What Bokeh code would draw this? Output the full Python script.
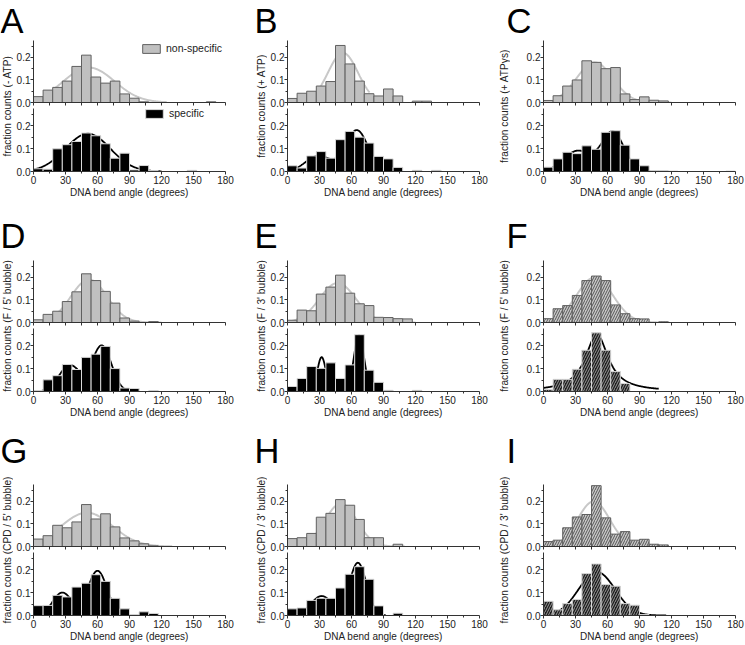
import numpy as np
from bokeh.plotting import figure
from bokeh.layouts import row, column
from bokeh.models import (Range1d, ColumnDataSource, Legend, LegendItem,
                          FixedTicker, NumeralTickFormatter)
from bokeh.core.properties import value
from bokeh.embed import file_html
from bokeh.resources import INLINE

# ------------------------------------------------------------------ data
BIN_EDGES = list(range(0, 181, 9))            # 9-degree histogram bins
X_TICKS = [0, 30, 60, 90, 120, 150, 180]
X_MINOR = [15, 45, 75, 105, 135, 165]
Y_TICKS = [0.0, 0.1, 0.2]
Y_MINOR = [0.05, 0.15, 0.25]
X_TITLE = "DNA bend angle (degrees)"
LEGEND_LABELS = ["non-specific", "specific"]
PANEL_LETTERS = ["A", "B", "C", "D", "E", "F", "G", "H", "I"]
Y_TITLES = ["fraction counts (- ATP)", "fraction counts (+ ATP)",
            "fraction counts (+ ATPγs)", "fraction counts (F / 5' bubble)",
            "fraction counts (F / 3' bubble)", "fraction counts (F / 5' bubble)",
            "fraction counts (CPD / 5' bubble)", "fraction counts (CPD / 3' bubble)",
            "fraction counts (CPD / 3' bubble)"]
HATCHED = ["F", "I"]

A_nonspecific = [0.026, 0.055, 0.067, 0.095, 0.160, 0.210, 0.113, 0.086, 0.095, 0.038,
                 0.019, 0.003, 0, 0, 0, 0, 0, 0, 0.003, 0]
A_specific = [0.012, 0.010, 0.099, 0.117, 0.131, 0.168, 0.156, 0.121, 0.058, 0.080,
              0.007, 0.026, 0.004, 0, 0, 0, 0.005, 0, 0, 0]
B_nonspecific = [0.018, 0.041, 0.050, 0.073, 0.093, 0.253, 0.171, 0.095, 0.039, 0.029,
                 0.060, 0.029, 0, 0.006, 0.006, 0, 0, 0, 0, 0]
B_specific = [0.025, 0.015, 0.068, 0.087, 0.058, 0.139, 0.175, 0.150, 0.124, 0.066,
              0.055, 0.018, 0, 0.005, 0, 0.005, 0, 0, 0, 0]
C_nonspecific = [0.009, 0.030, 0.073, 0.100, 0.185, 0.178, 0.150, 0.155, 0.038, 0.013,
                 0.025, 0.010, 0.007, 0, 0, 0, 0, 0, 0, 0]
C_specific = [0.019, 0.055, 0.084, 0.078, 0.112, 0.097, 0.171, 0.178, 0.115, 0.055,
              0.025, 0.003, 0.003, 0.002, 0, 0, 0, 0, 0, 0.002]
D_nonspecific = [0.012, 0.036, 0.050, 0.093, 0.136, 0.216, 0.186, 0.138, 0.086, 0.020,
                 0.006, 0, 0.004, 0, 0, 0, 0, 0, 0, 0]
D_specific = [0.003, 0.051, 0.069, 0.118, 0.096, 0.149, 0.163, 0.197, 0.100, 0.015,
              0.013, 0, 0.003, 0, 0, 0, 0, 0, 0, 0]
E_nonspecific = [0.010, 0.055, 0.052, 0.126, 0.157, 0.210, 0.130, 0.083, 0.075, 0.023,
                 0.022, 0.017, 0.016, 0, 0, 0, 0, 0, 0, 0]
E_specific = [0.022, 0.057, 0.109, 0.101, 0.125, 0.057, 0.116, 0.248, 0.093, 0.040,
              0.005, 0, 0, 0.005, 0, 0, 0, 0, 0, 0]
F_nonspecific = [0.017, 0.061, 0.075, 0.120, 0.186, 0.206, 0.186, 0.078, 0.039, 0.017,
                 0.016, 0, 0.003, 0, 0, 0, 0, 0, 0, 0]
F_specific = [0.009, 0.053, 0.053, 0.097, 0.180, 0.256, 0.180, 0.087, 0.035, 0,
              0, 0, 0, 0, 0, 0, 0, 0, 0, 0]
G_nonspecific = [0.033, 0.048, 0.094, 0.083, 0.109, 0.186, 0.122, 0.145, 0.087, 0.038,
                 0.025, 0.012, 0.003, 0, 0, 0, 0, 0, 0, 0]
G_specific = [0.043, 0.044, 0.088, 0.081, 0.124, 0.141, 0.178, 0.149, 0.075, 0.029,
              0.004, 0.016, 0.009, 0, 0, 0, 0, 0, 0, 0]
H_nonspecific = [0.035, 0.039, 0.058, 0.130, 0.147, 0.208, 0.183, 0.120, 0.039, 0.039,
                 0, 0.010, 0, 0, 0, 0, 0, 0, 0, 0]
H_specific = [0.029, 0.033, 0.066, 0.075, 0.075, 0.120, 0.180, 0.213, 0.158, 0.042,
              0, 0.010, 0, 0, 0, 0, 0, 0, 0, 0]
I_nonspecific = [0.022, 0.028, 0.083, 0.131, 0.142, 0.270, 0.127, 0.055, 0.066, 0.028,
                 0.032, 0.010, 0.007, 0, 0, 0, 0, 0, 0, 0]
I_specific = [0.062, 0.025, 0.052, 0.070, 0.183, 0.225, 0.135, 0.128, 0.052, 0.045,
              0.004, 0, 0, 0, 0, 0, 0, 0, 0, 0]

# fitted components: (shape, centre [deg], amplitude, width [deg]) and plotted span
A_nonspecific_fit = [("gauss", 52, 0.155, 24)]
A_nonspecific_span = [18, 125]
A_specific_fit = [("gauss", 51, 0.165, 21)]
A_specific_span = [0, 120]
B_nonspecific_fit = [("gauss", 52, 0.22, 14)]
B_nonspecific_span = [30, 77]
B_specific_fit = [("gauss", 29, 0.068, 12), ("gauss", 65, 0.18, 10.5)]
B_specific_span = [5, 100]
C_nonspecific_fit = [("gauss", 48, 0.178, 17)]
C_nonspecific_span = [10, 120]
C_specific_fit = [("gauss", 32, 0.09, 13), ("gauss", 65, 0.172, 10.5)]
C_specific_span = [3, 100]
D_nonspecific_fit = [("gauss", 52, 0.19, 17)]
D_nonspecific_span = [18, 120]
D_specific_fit = [("gauss", 34, 0.115, 10), ("gauss", 64, 0.2, 9)]
D_specific_span = [8, 92]
E_nonspecific_fit = [("gauss", 47, 0.175, 17)]
E_nonspecific_span = [0, 120]
E_specific_fit = [("gauss", 32, 0.15, 4), ("gauss", 67, 0.245, 4.8)]
E_specific_span = [20, 85]
F_nonspecific_fit = [("gauss", 48, 0.2, 17)]
F_nonspecific_span = [12, 118]
F_specific_fit = [("lorentz", 50, 0.25, 13)]
F_specific_span = [0, 108]
G_nonspecific_fit = [("gauss", 50, 0.15, 24)]
G_nonspecific_span = [18, 130]
G_specific_fit = [("gauss", 27, 0.1, 9), ("gauss", 60, 0.195, 9)]
G_specific_span = [8, 88]
H_nonspecific_fit = [("gauss", 50, 0.19, 15)]
H_nonspecific_span = [15, 110]
H_specific_fit = [("gauss", 32, 0.085, 10), ("gauss", 66, 0.23, 8)]
H_specific_span = [8, 92]
I_nonspecific_fit = [("gauss", 47, 0.2, 15)]
I_nonspecific_span = [15, 110]
I_specific_fit = [("gauss", 50, 0.19, 17)]
I_specific_span = [15, 115]

G_ = globals()

# ------------------------------------------------------------------ layout constants
FONT = "Liberation Sans"
FRAME_W = 192
YLAB_W = 13
COL_L = [20, 20, 33]
COL_R = [29, 18, 10]
LETTER_X = [0, 0, 9]
LETTER_H = 40
LETTER_MID = 20
ROW_TT = [0, 5, 14]
ROW_BB = [44, 39, 30]
TOP_FH, TOP_B = 62, 6
BOT_T, BOT_FH = 0, 63
Y_MAX = 0.275


def fit_curve(components, span):
    xs = np.linspace(span[0], span[1], 241)
    ys = np.zeros_like(xs)
    for shape, c, a, w in components:
        if shape == "gauss":
            ys += a * np.exp(-(xs - c) ** 2 / (2.0 * w * w))
        else:
            ys += a / (1.0 + ((xs - c) / w) ** 2)
    return xs, ys


def style_axes(p, is_top):
    for ax in (p.xaxis[0], p.yaxis[0]):
        ax.axis_line_color = "#333333"
        ax.major_tick_line_color = "#333333"
        ax.minor_tick_line_color = "#333333"
        ax.major_tick_out = 3
        ax.major_tick_in = 0
        ax.minor_tick_out = 2
        ax.minor_tick_in = 0
        ax.major_label_text_font = FONT
        ax.major_label_text_font_size = "10px"
        ax.major_label_text_color = "#222222"
    p.yaxis.ticker = FixedTicker(ticks=Y_TICKS, minor_ticks=Y_MINOR)
    p.yaxis.formatter = NumeralTickFormatter(format="0.0")
    p.yaxis.major_label_standoff = 0
    if is_top:
        # the upper histogram has tick marks only, no tick labels
        p.xaxis.ticker = FixedTicker(ticks=[], minor_ticks=X_TICKS + X_MINOR)
        p.xaxis.minor_tick_out = 3
        p.xaxis.major_label_standoff = 0
    else:
        p.xaxis.ticker = FixedTicker(ticks=X_TICKS, minor_ticks=X_MINOR)
        p.xaxis.major_label_standoff = 1
        p.xaxis.axis_label = X_TITLE
        p.xaxis.axis_label_text_font = FONT
        p.xaxis.axis_label_text_font_size = "10px"
        p.xaxis.axis_label_text_font_style = "normal"
        p.xaxis.axis_label_text_color = "#222222"
        p.xaxis.axis_label_standoff = 0


def hist_fig(letter, kind, col, tt, bb, with_legend):
    is_top = kind == "nonspecific"
    vals = G_[f"{letter}_{kind}"]
    fit = G_[f"{letter}_{kind}_fit"]
    span = G_[f"{letter}_{kind}_span"]
    fh = TOP_FH if is_top else BOT_FH
    p = figure(frame_width=FRAME_W, frame_height=fh,
               x_range=Range1d(0, 180), y_range=Range1d(0, Y_MAX),
               output_backend="svg", toolbar_location=None,
               min_border_left=COL_L[col], min_border_right=COL_R[col],
               min_border_top=tt if is_top else BOT_T,
               min_border_bottom=TOP_B if is_top else bb)
    p.outline_line_color = None
    p.grid.visible = False
    style_axes(p, is_top)

    xs, ys = fit_curve(fit, span)
    p.line(xs, ys, line_color="#c8c8c8" if is_top else "#000000",
           line_width=2 if is_top else 1.8)

    left = [BIN_EDGES[i] for i, v in enumerate(vals) if v > 0]
    right = [BIN_EDGES[i + 1] for i, v in enumerate(vals) if v > 0]
    top = [v for v in vals if v > 0]
    src = ColumnDataSource(dict(left=left, right=right, top=top))
    hatched = letter in HATCHED
    if is_top:
        kw = dict(fill_color="#c0c0c0", line_color="#606060", line_width=1)
        if hatched:
            kw.update(fill_color="#c8c8c8", hatch_pattern="/", hatch_color="#555555",
                      hatch_scale=5, hatch_weight=1)
    else:
        kw = dict(fill_color="#000000", line_color="#d8d8d8", line_width=1)
        if hatched:
            kw.update(fill_color="#1e1e1e", hatch_pattern="/", hatch_color="#9a9a9a",
                      hatch_scale=5, hatch_weight=1)
    bars = p.quad(left="left", right="right", top="top", bottom=0, source=src, **kw)

    if with_legend:
        label = LEGEND_LABELS[0] if is_top else LEGEND_LABELS[1]
        loc = (107, fh - 3 - 11) if is_top else (110, fh - 11)
        lg = Legend(items=[LegendItem(label=label, renderers=[bars])],
                    location=loc,
                    glyph_width=22, glyph_height=11, label_height=11,
                    label_standoff=4, padding=0, margin=0, spacing=0,
                    label_text_font=FONT, label_text_font_size="10.5px",
                    label_text_color="#222222",
                    border_line_color=None, background_fill_alpha=0)
        p.add_layout(lg)
    return p


def blank_fig(w, h):
    f = figure(width=w, height=h, x_range=Range1d(0, w), y_range=Range1d(0, h),
               x_axis_type=None, y_axis_type=None, toolbar_location=None,
               output_backend="svg", min_border=0)
    f.outline_line_color = None
    f.grid.visible = False
    return f


rows = []
for r in range(3):
    panels = []
    for c in range(3):
        idx = r * 3 + c
        letter = PANEL_LETTERS[idx]
        pw = YLAB_W + COL_L[c] + FRAME_W + COL_R[c]
        tt, bb = ROW_TT[r], ROW_BB[r]

        lf = blank_fig(pw, LETTER_H)
        lf.text(x=[LETTER_X[c]], y=[LETTER_H - LETTER_MID], text=[letter],
                text_font=value(FONT), text_font_size=value("34.5px"),
                text_align="left", text_baseline="middle", text_color="#000000")

        top = hist_fig(letter, "nonspecific", c, tt, bb, letter == "A")
        bot = hist_fig(letter, "specific", c, tt, bb, letter == "A")

        stack_h = (tt + TOP_FH + TOP_B) + (BOT_T + BOT_FH + bb)
        centre = tt + (TOP_FH + TOP_B + BOT_T + BOT_FH) / 2.0
        yf = blank_fig(YLAB_W, stack_h)
        yf.text(x=[YLAB_W / 2.0], y=[stack_h - centre], text=[Y_TITLES[idx]],
                angle=np.pi / 2, text_font=value(FONT), text_font_size=value("10.2px"),
                text_align="center", text_baseline="middle", text_color="#222222")

        panels.append(column(lf, row(yf, column(top, bot))))
    rows.append(row(*panels))

layout = column(*rows)
open("out.html", "w").write(file_html(layout, INLINE))
